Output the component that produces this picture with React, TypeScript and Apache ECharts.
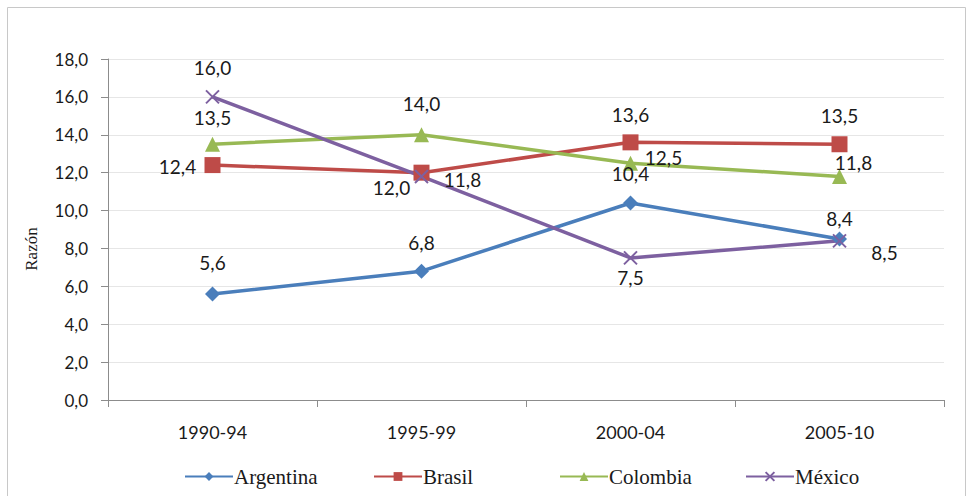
import React, { useEffect, useRef } from "react";
import * as echarts from "echarts";

const categories = ["1990-94", "1995-99", "2000-04", "2005-10"];
const argentina = [5.6, 6.8, 10.4, 8.5];
const brasil = [12.4, 12.0, 13.6, 13.5];
const colombia = [13.5, 14.0, 12.5, 11.8];
const mexico = [16.0, 11.8, 7.5, 8.4];
const yTicks = { min: 0, max: 18, interval: 2 };
const seriesNames = ["Argentina", "Brasil", "Colombia", "México"];

// label offsets (dx, dy) relative to point centre
const argOff = [[0, -31], [0, -29], [0, -29], [45, 14]];
const braOff = [[-35, 1], [-30, 15], [0, -28], [0, -29]];
const colOff = [[0, -27], [0, -31], [33, -6], [14, -14]];
const mexOff = [[0, -29], [41, 3], [0, 20], [0, -22]];

const fmt = (v: number) => v.toFixed(1).replace(".", ",");
const numFont = "Lato";
const legendLeft = [184, 373, 559, 745];

function mkData(vals: number[], offs: number[][]) {
  return vals.map((v, i) => ({
    value: v,
    label: {
      show: true,
      position: "inside",
      offset: offs[i],
      align: "center",
      verticalAlign: "middle",
      formatter: (p: any) => fmt(p.value),
      color: "#1a1a1a",
      fontSize: 19,
      fontFamily: numFont,
    },
  }));
}

export default function App() {
  const ref = useRef<HTMLDivElement>(null);
  useEffect(() => {
    if (!ref.current) return;
    const chart = echarts.init(ref.current, undefined, { renderer: "svg" });
    const mk = (name: string, color: string, symbol: string, size: number, vals: number[], offs: number[][], extra: any = {}) => ({
      name,
      type: "line",
      data: mkData(vals, offs),
      symbol,
      symbolSize: size,
      lineStyle: { color, width: 3.5 },
      itemStyle: { color, ...extra },
      z: 2,
    });
    chart.setOption({
      animation: false,
      backgroundColor: "#ffffff",
      graphic: [
        {
          type: "rect",
          shape: { x: 7.5, y: 7.5, width: 958, height: 490 },
          style: { fill: "none", stroke: "#c8c8c8", lineWidth: 1 },
          silent: true,
        },
        {
          type: "text",
          x: 31,
          y: 249,
          rotation: Math.PI / 2,
          style: {
            text: "Razón",
            fontFamily: "'Liberation Serif', serif",
            fontSize: 17,
            fill: "#1a1a1a",
            align: "center",
            verticalAlign: "middle",
          },
          silent: true,
        },
      ],
      grid: { left: 108, right: 28, top: 59, bottom: 96 },
      xAxis: {
        type: "category",
        data: categories,
        boundaryGap: true,
        axisLine: { lineStyle: { color: "#8c8c8c", width: 1 } },
        axisTick: { show: true, interval: 0, length: 7, lineStyle: { color: "#8c8c8c" } },
        axisLabel: { color: "#1a1a1a", fontSize: 18, fontFamily: numFont, margin: 23 },
      },
      yAxis: {
        type: "value",
        min: yTicks.min,
        max: yTicks.max,
        interval: yTicks.interval,
        axisLine: { show: true, lineStyle: { color: "#8c8c8c", width: 1 } },
        axisTick: { show: true, length: 7, lineStyle: { color: "#8c8c8c" } },
        axisLabel: { color: "#1a1a1a", fontSize: 17, fontFamily: numFont, margin: 20, formatter: (v: number) => fmt(v) },
        splitLine: { lineStyle: { color: "#e6e6e6", width: 1 } },
      },
      legend: seriesNames.map((n, i) => ({
        left: legendLeft[i],
        top: 466,
        itemWidth: 48,
        itemHeight: 11,
        padding: 0,
        textStyle: { fontFamily: "'Liberation Serif', serif", fontSize: 21, color: "#1a1a1a", padding: [0, 0, 0, -4] },
        data: [n],
      })),
      series: [
        mk("Argentina", "#4a7ebb", "diamond", 15, argentina, argOff),
        mk("Brasil", "#be4b48", "rect", 16, brasil, braOff),
        mk("Colombia", "#98b954", "triangle", 15, colombia, colOff),
        mk("México", "#7d60a0", "path://M0,0L10,10M10,0L0,10", 13, mexico, mexOff, {
          borderColor: "#7d60a0",
          borderWidth: 2,
        }),
      ],
    });
    return () => chart.dispose();
  }, []);
  return (
    <div
      ref={ref}
      style={{ position: "fixed", left: 0, top: 0, width: 972, height: 496 }}
    />
  );
}
